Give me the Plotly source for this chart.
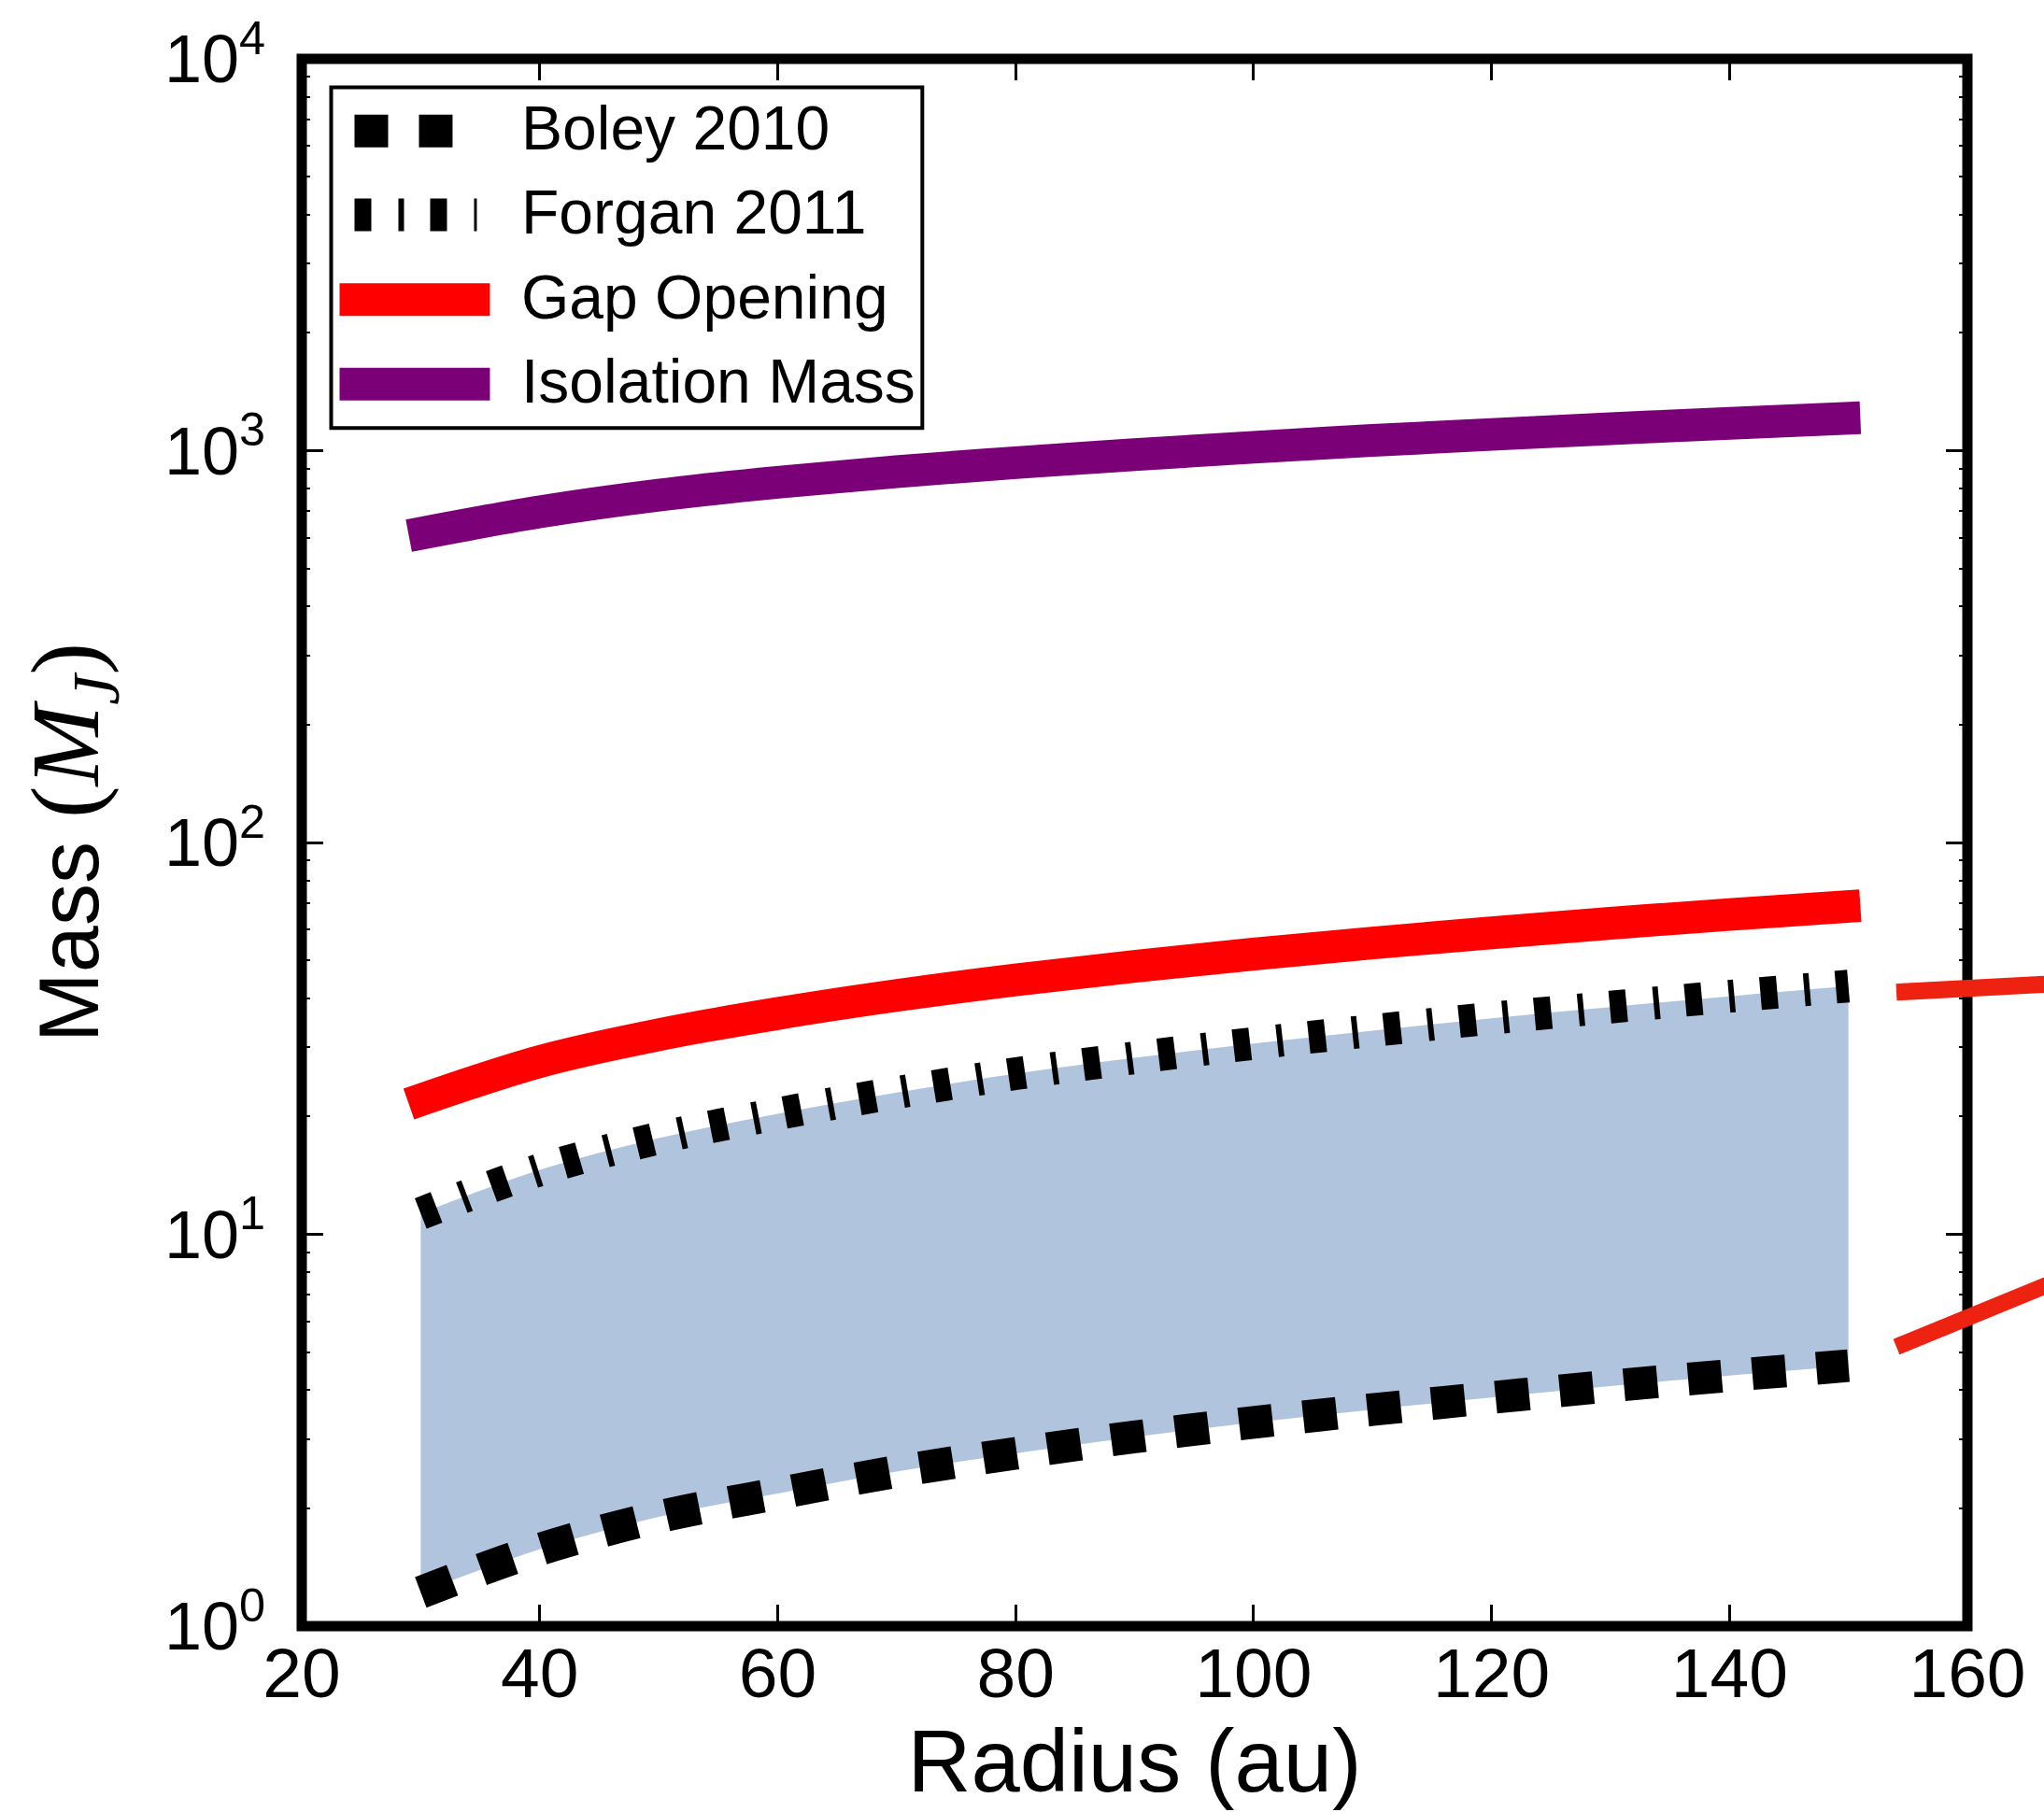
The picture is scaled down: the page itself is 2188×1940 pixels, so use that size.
import plotly.graph_objects as go

# ---- data ----
radius_band = [30, 40, 50, 60, 70, 80, 90, 100, 110, 120, 130, 140, 150]
forgan_2011 = [11.3, 14.6, 17.6, 20.3, 23.0, 25.7, 28.2, 30.7, 33.1, 35.6, 38.0, 40.5, 43.0]
boley_2010 = [1.22, 1.57, 1.90, 2.18, 2.48, 2.76, 3.04, 3.31, 3.57, 3.83, 4.10, 4.36, 4.62]

radius_lines = [29, 40, 50, 60, 70, 80, 90, 100, 110, 120, 130, 140, 151]
gap_opening = [21.5, 27.6, 32.3, 36.6, 40.7, 44.6, 48.3, 51.9, 55.4, 58.8, 62.2, 65.5, 69.0]
isolation_mass = [607, 698, 770, 830, 884, 932, 977, 1020, 1062, 1100, 1138, 1174, 1213]

x_ticks = [20, 40, 60, 80, 100, 120, 140, 160]
y_ticks = [1, 10, 100, 1000, 10000]
y_ticktext = ["10<sup>0</sup>", "10<sup>1</sup>", "10<sup>2</sup>", "10<sup>3</sup>", "10<sup>4</sup>"]
y_minor = [m * d for d in [1, 10, 100, 1000] for m in range(2, 10)]

legend_names = ["Boley 2010", "Forgan 2011", "Gap Opening", "Isolation Mass"]

FONT = "Liberation Sans, Arial, Helvetica, sans-serif"
LW = 35
BOLEY_DASH = "36px,33px"
FORGAN_DASH = "18px,29px,6px,28px"
RED = "#FF0000"
PURPLE = "#7B0077"

# layout geometry (pixels of the 2188x1940 page)
W, H = 2188, 1940
PL, PR, PT, PB = 322.5, 2106.0, 57.5, 1741.0


def px(x):
    return (x - PL) / (PR - PL)


def py(y):
    return (PB - y) / (PB - PT)


fig = go.Figure()

# shaded band between the two bounds
fig.add_trace(go.Scatter(x=radius_band, y=boley_2010, mode="lines",
                         line=dict(width=0, color="rgba(0,0,0,0)", shape="spline"),
                         showlegend=False, hoverinfo="skip"))
fig.add_trace(go.Scatter(x=radius_band, y=forgan_2011, mode="lines", fill="tonexty",
                         fillcolor="#B0C4DE",
                         line=dict(width=0, color="rgba(0,0,0,0)", shape="spline"),
                         showlegend=False, hoverinfo="skip"))

fig.add_trace(go.Scatter(x=radius_band, y=boley_2010, mode="lines", name=legend_names[0],
                         line=dict(color="black", width=LW, dash=BOLEY_DASH, shape="spline"),
                         showlegend=False))
fig.add_trace(go.Scatter(x=radius_band, y=forgan_2011, mode="lines", name=legend_names[1],
                         line=dict(color="black", width=LW, dash=FORGAN_DASH, shape="spline"),
                         showlegend=False))
fig.add_trace(go.Scatter(x=radius_lines, y=gap_opening, mode="lines", name=legend_names[2],
                         line=dict(color=RED, width=LW, shape="spline"),
                         showlegend=False))
fig.add_trace(go.Scatter(x=radius_lines, y=isolation_mass, mode="lines", name=legend_names[3],
                         line=dict(color=PURPLE, width=LW, shape="spline"),
                         showlegend=False))

shapes = [
    # axes frame
    dict(type="rect", xref="paper", yref="paper", x0=0, x1=1, y0=0, y1=1,
         line=dict(color="black", width=11), layer="above"),
    # red connector lines leaving the plot on the right
    dict(type="line", xref="paper", yref="paper", x0=px(2030), y0=py(1060), x1=px(2200), y1=py(1051),
         line=dict(color="#EE2211", width=18), layer="above"),
    dict(type="line", xref="paper", yref="paper", x0=px(2030), y0=py(1441), x1=px(2200), y1=py(1371),
         line=dict(color="#EE2211", width=18), layer="above"),
    # legend box
    dict(type="rect", xref="paper", yref="paper", x0=px(354), x1=px(987), y0=py(454), y1=py(88),
         line=dict(color="black", width=4), fillcolor="white", layer="above"),
]

# legend samples
rows_y = [135, 225, 316, 407]
sample_specs = [
    (379, 484, dict(color="black", width=LW, dash=BOLEY_DASH)),
    (379, 510, dict(color="black", width=LW, dash=FORGAN_DASH)),
    (363, 524, dict(color=RED, width=LW)),
    (363, 524, dict(color=PURPLE, width=LW)),
]
annotations = []
for (x0, x1, ln), yy, name in zip(sample_specs, rows_y, legend_names):
    shapes.append(dict(type="line", xref="paper", yref="paper", x0=px(x0), x1=px(x1),
                       y0=py(yy), y1=py(yy), line=ln, layer="above"))
    annotations.append(dict(xref="paper", yref="paper", x=px(556), y=py(yy - 3), text=name,
                            showarrow=False, xanchor="left", yanchor="middle",
                            font=dict(size=66, family=FONT, color="black")))

fig.update_layout(
    width=W, height=H,
    margin=dict(l=PL, r=W - PR, t=PT, b=H - PB, pad=0),
    paper_bgcolor="white", plot_bgcolor="white",
    font=dict(family=FONT, color="black"),
    shapes=shapes,
    annotations=annotations,
    showlegend=False,
)

fig.update_xaxes(range=[20, 160], tickvals=x_ticks, ticks="inside", ticklen=23,
                 tickwidth=2.5, tickcolor="black", mirror="ticks", showline=False,
                 showgrid=False, zeroline=False,
                 tickfont=dict(size=75, family=FONT),
                 title=dict(text="Radius (au)", font=dict(size=94, family=FONT), standoff=8))
fig.update_yaxes(type="log", range=[0, 4], tickvals=y_ticks, ticktext=y_ticktext,
                 ticks="inside", ticklen=23, tickwidth=2.5, tickcolor="black",
                 mirror="ticks", showline=False, showgrid=False, zeroline=False,
                 ticklabelstandoff=38,
                 tickfont=dict(size=72, family=FONT),
                 minor=dict(tickvals=y_minor, ticks="inside", ticklen=9, tickwidth=2,
                            tickcolor="black", showgrid=False),
                 title=dict(text="Mass <span style=\"font-family:Liberation Serif;font-size:104px\">(<i>M</i><sub><i>J</i></sub>)</span>",
                            font=dict(size=90, family=FONT), standoff=40))

fig.write_html("out.html", config={"displayModeBar": False},
               post_script="document.body.style.margin='0';")
